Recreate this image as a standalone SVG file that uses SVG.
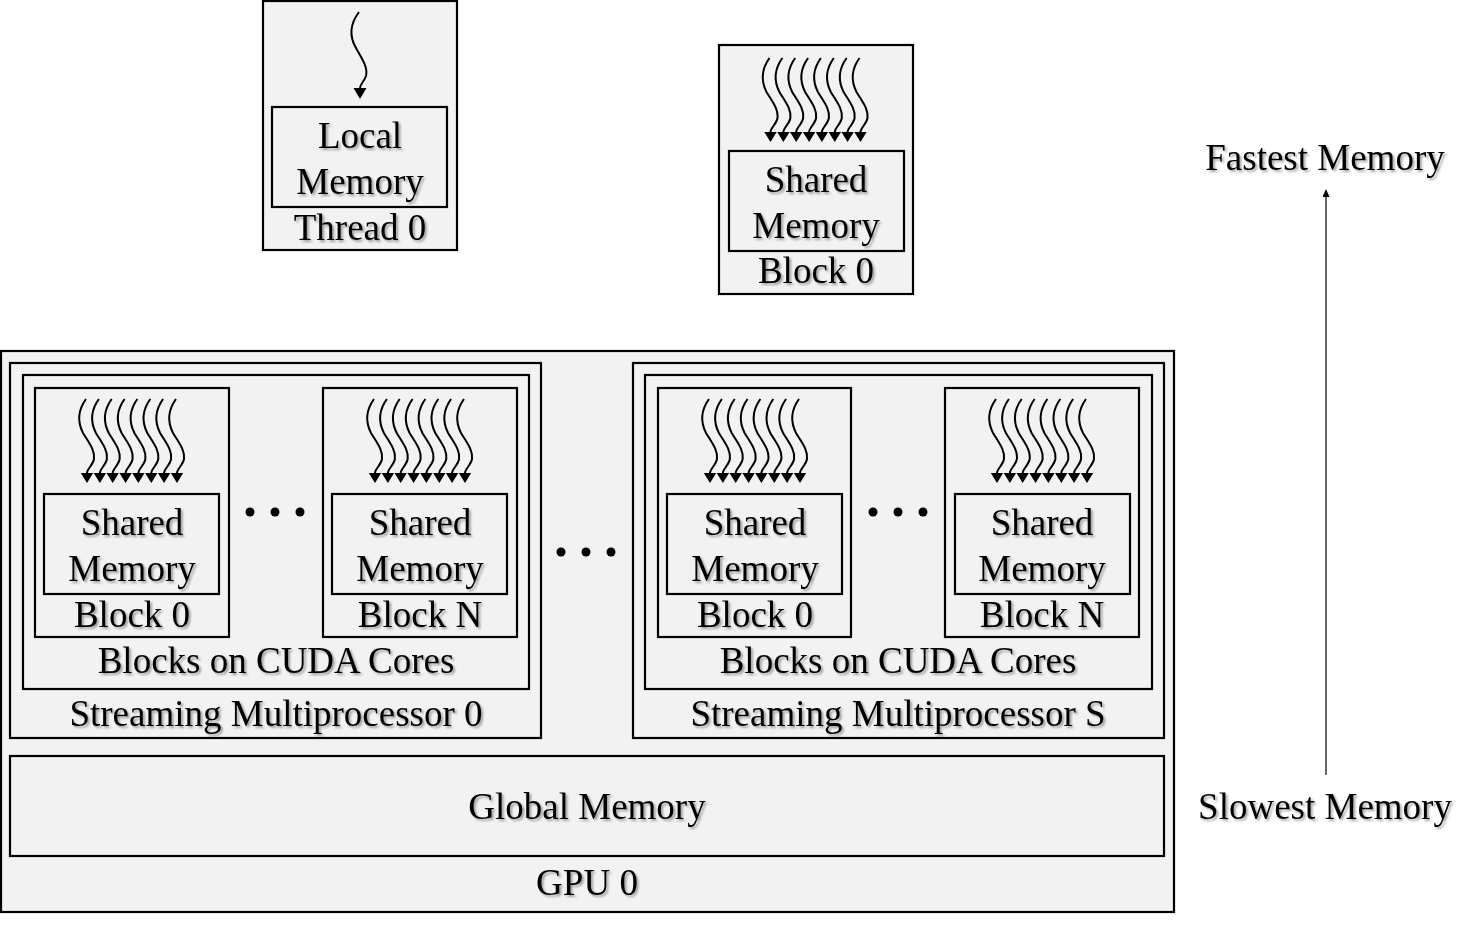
<svg xmlns="http://www.w3.org/2000/svg" xmlns:xlink="http://www.w3.org/1999/xlink" width="1480" height="931" viewBox="0 0 1480 931">
<style>
.box{fill:#f2f2f2;stroke:#000;stroke-width:2.2}
.t{font-family:"Liberation Serif","Times New Roman",serif;font-size:37px;fill:#000;text-anchor:middle;filter:url(#sh)}
.sq{fill:none;stroke:#000;stroke-width:2;marker-end:url(#ah)}
.dot{fill:#000}
</style>
<defs>
<filter id="sh" x="-10%" y="-20%" width="130%" height="160%">
<feDropShadow dx="2" dy="2" stdDeviation="1.3" flood-color="#000" flood-opacity="0.35"/>
</filter>
<marker id="ah" markerUnits="userSpaceOnUse" markerWidth="14" markerHeight="14" refX="0" refY="6.2" orient="90" overflow="visible">
<path d="M0,0 L10,6.2 L0,12.4 Z" fill="#000"/>
</marker>
<marker id="ah3" markerUnits="userSpaceOnUse" markerWidth="14" markerHeight="14" refX="0" refY="6.5" orient="90" overflow="visible">
<path d="M0,0 L11,6.5 L0,13 Z" fill="#000"/>
</marker>
<marker id="ah2" markerUnits="userSpaceOnUse" markerWidth="10" markerHeight="10" refX="0" refY="3.5" orient="auto">
<path d="M0,0 L8,3.5 L0,7 Z" fill="#000"/>
</marker>
<path id="s1" class="sq" d="M0,0 C-8,11 -9,22 -3,34 C3,44 9,51 8,60 C7,66 1,70 1,74"/>
<g id="bundle">
<use xlink:href="#s1" x="-45"/>
<use xlink:href="#s1" x="-32.1"/>
<use xlink:href="#s1" x="-19.3"/>
<use xlink:href="#s1" x="-6.4"/>
<use xlink:href="#s1" x="6.4"/>
<use xlink:href="#s1" x="19.3"/>
<use xlink:href="#s1" x="32.1"/>
<use xlink:href="#s1" x="45"/>
</g>
</defs>
<rect width="1480" height="931" fill="#fff"/>

<g id="thread0">
<rect class="box" x="263" y="1" width="194" height="249"/>
<path class="sq" style="marker-end:url(#ah3)" d="M359,12 C350,24 349,36 356,48 C363,60 368,68 366,76 C364,82 360,84 360,88"/>
<g id="localmem">
<rect class="box" x="272" y="107" width="175" height="100"/>
<text class="t" x="360" y="148">Local</text>
<text class="t" x="360" y="194">Memory</text>
</g>
<text class="t" x="360" y="240">Thread 0</text>
</g>

<g id="block0top">
<rect class="box" x="719" y="45" width="194" height="249"/>
<use xlink:href="#bundle" transform="translate(814.5,58)"/>
<g id="sharedtop">
<rect class="box" x="729" y="151" width="175" height="100"/>
<text class="t" x="816" y="192">Shared</text>
<text class="t" x="816" y="238">Memory</text>
</g>
<text class="t" x="816" y="283">Block 0</text>
</g>

<g id="gpu0">
<rect class="box" x="1" y="351" width="1173" height="561"/>
<text class="t" x="587" y="895">GPU 0</text>
</g>

<g id="sm0">
<rect class="box" x="10" y="363" width="531" height="375"/>
<text class="t" x="276" y="726">Streaming Multiprocessor 0</text>
</g>
<g id="cores0">
<rect class="box" x="23" y="375" width="506" height="314"/>
<text class="t" x="276" y="673">Blocks on CUDA Cores</text>
</g>
<g id="sm0block0">
<rect class="box" x="35" y="388" width="194" height="249"/>
<use xlink:href="#bundle" transform="translate(131,399)"/>
<rect class="box" x="44" y="494" width="175" height="100"/>
<text class="t" x="132" y="535">Shared</text>
<text class="t" x="132" y="581">Memory</text>
<text class="t" x="132" y="627">Block 0</text>
</g>
<g id="sm0blockN">
<rect class="box" x="323" y="388" width="194" height="249"/>
<use xlink:href="#bundle" transform="translate(419,399)"/>
<rect class="box" x="332" y="494" width="175" height="100"/>
<text class="t" x="420" y="535">Shared</text>
<text class="t" x="420" y="581">Memory</text>
<text class="t" x="420" y="627">Block N</text>
</g>

<g id="smS">
<rect class="box" x="633" y="363" width="531" height="375"/>
<text class="t" x="898" y="726">Streaming Multiprocessor S</text>
</g>
<g id="coresS">
<rect class="box" x="645" y="375" width="507" height="314"/>
<text class="t" x="898" y="673">Blocks on CUDA Cores</text>
</g>
<g id="smSblock0">
<rect class="box" x="658" y="388" width="193" height="249"/>
<use xlink:href="#bundle" transform="translate(754,399)"/>
<rect class="box" x="667" y="494" width="175" height="100"/>
<text class="t" x="755" y="535">Shared</text>
<text class="t" x="755" y="581">Memory</text>
<text class="t" x="755" y="627">Block 0</text>
</g>
<g id="smSblockN">
<rect class="box" x="945" y="388" width="194" height="249"/>
<use xlink:href="#bundle" transform="translate(1041,399)"/>
<rect class="box" x="955" y="494" width="175" height="100"/>
<text class="t" x="1042" y="535">Shared</text>
<text class="t" x="1042" y="581">Memory</text>
<text class="t" x="1042" y="627">Block N</text>
</g>

<g id="globalmem">
<rect class="box" x="10" y="756" width="1154" height="100"/>
<text class="t" x="587" y="819">Global Memory</text>
</g>

<g id="ellipses">
<circle class="dot" cx="250" cy="512" r="4.5"/>
<circle class="dot" cx="275" cy="512" r="4.5"/>
<circle class="dot" cx="300" cy="512" r="4.5"/>
<circle class="dot" cx="561" cy="552" r="4.5"/>
<circle class="dot" cx="586" cy="552" r="4.5"/>
<circle class="dot" cx="611" cy="552" r="4.5"/>
<circle class="dot" cx="873" cy="512" r="4.5"/>
<circle class="dot" cx="898" cy="512" r="4.5"/>
<circle class="dot" cx="923" cy="512" r="4.5"/>
</g>

<g id="fastest"><text class="t" x="1325" y="170">Fastest Memory</text></g>
<g id="slowest"><text class="t" x="1325" y="819">Slowest Memory</text></g>
<g id="connectors">
<line x1="1326" y1="775" x2="1326" y2="197" stroke="#000" stroke-width="1.2" marker-end="url(#ah2)"/>
</g>
</svg>
